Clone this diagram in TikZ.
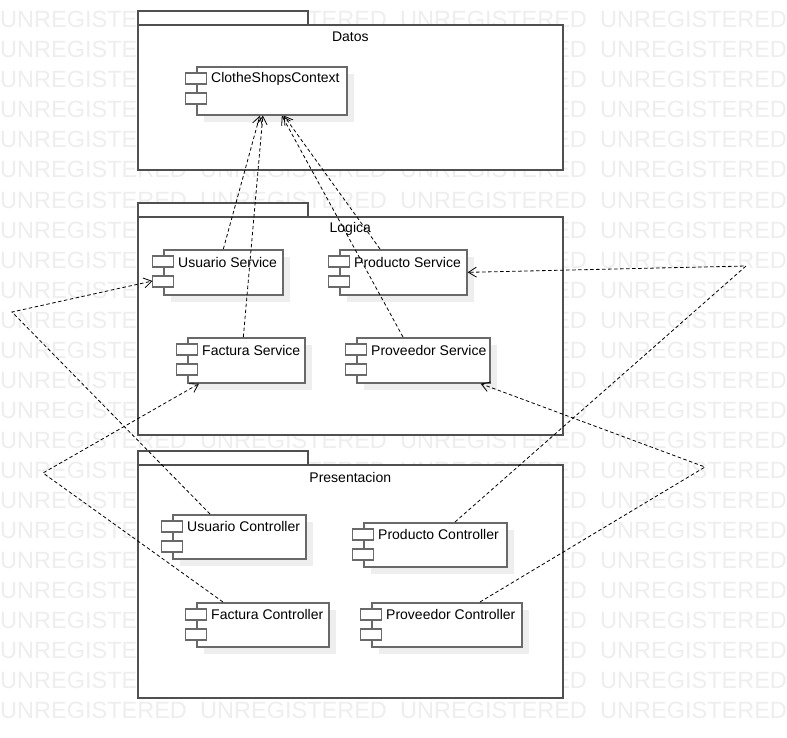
\documentclass[tikz,border=0pt]{standalone}
\usepackage{fontspec}
\setmainfont{Liberation Sans}
\usetikzlibrary{arrows.meta,shadows}
\definecolor{wmgray}{RGB}{238,238,238}
\definecolor{boxgray}{RGB}{105,105,105}
\definecolor{pkggray}{RGB}{80,80,80}
\definecolor{shadegray}{RGB}{238,238,238}

\begin{document}
\begin{tikzpicture}[x=1pt, y=-1pt,
  pkg/.style={draw=pkggray, line width=1.6pt, fill=white, anchor=north west, inner sep=0pt},
  comp/.style={draw=boxgray, line width=1.7pt, fill=white, anchor=north west, inner sep=0pt,
    drop shadow={shadow xshift=7pt, shadow yshift=-7pt, fill=shadegray, opacity=1}},
  port/.style={draw=boxgray, line width=1.7pt, fill=white},
  comptext/.style={anchor=west, inner sep=0pt, font=\fontsize{14}{16}\selectfont},
  pkgtext/.style={inner sep=0pt, font=\fontsize{14}{16}\selectfont},
  dep/.style={dash pattern=on 3.5pt off 2.5pt, line width=0.8pt, -{Straight Barb[length=8pt,width=10pt]}},
  wm/.style={anchor=base west, inner sep=0pt, text=wmgray, font=\fontsize{23.5}{26}\selectfont}
]
\useasboundingbox (0,0) rectangle (787,738);
\fill[white] (0,0) rectangle (787,738);

\begin{scope}
\clip (0,0) rectangle (787,738);
\foreach \r in {0,...,23}
  \foreach \c in {0,...,3}
    \node[wm] (wm-\r-\c) at (200*\c, 28+30*\r) {UNREGISTERED};
\end{scope}

\node[pkg, minimum width=170pt, minimum height=14pt] (datos-tab) at (137,10) {};
\node[pkg, minimum width=425pt, minimum height=145pt] (datos) at (137,24) {};
\node[pkgtext] (datos-t) at ([yshift=-13pt]datos.north) {Datos};

\node[pkg, minimum width=170pt, minimum height=14pt] (logica-tab) at (137,202) {};
\node[pkg, minimum width=425pt, minimum height=218pt] (logica) at (137,216) {};
\node[pkgtext] (logica-t) at ([yshift=-13pt]logica.north) {Logica};

\node[pkg, minimum width=170pt, minimum height=14pt] (pres-tab) at (137,450) {};
\node[pkg, minimum width=425pt, minimum height=233pt] (pres) at (137,464) {};
\node[pkgtext] (pres-t) at ([yshift=-13pt]pres.north) {Presentacion};

\node[comp, minimum width=150pt, minimum height=48pt] (ctx) at (196,66) {};
\node[comp, minimum width=119pt, minimum height=45pt] (us) at (163,249) {};
\node[comp, minimum width=127pt, minimum height=45pt] (ps) at (339,249) {};
\node[comp, minimum width=117pt, minimum height=45pt] (fs) at (187,337) {};
\node[comp, minimum width=133pt, minimum height=45pt] (vs) at (356,337) {};
\node[comp, minimum width=133pt, minimum height=44pt] (uc) at (172,514) {};
\node[comp, minimum width=143pt, minimum height=44pt] (pc) at (363,522) {};
\node[comp, minimum width=132pt, minimum height=44pt] (fc) at (196,602) {};
\node[comp, minimum width=150pt, minimum height=44pt] (vc) at (371,602) {};

\foreach \n in {ctx,us,ps,fs,vs,uc,pc,fc,vc} {
  \draw[port] ([xshift=-10.5pt,yshift=-7pt]\n.north west) rectangle ++(21,11);
  \draw[port] ([xshift=-10.5pt,yshift=-27pt]\n.north west) rectangle ++(21,11);
}

\node[comptext] (ctx-t) at ([xshift=15pt,yshift=-13pt]ctx.north west) {ClotheShopsContext};
\node[comptext] (us-t) at ([xshift=15pt,yshift=-13pt]us.north west) {Usuario Service};
\node[comptext] (ps-t) at ([xshift=15pt,yshift=-13pt]ps.north west) {Producto Service};
\node[comptext] (fs-t) at ([xshift=15pt,yshift=-13pt]fs.north west) {Factura Service};
\node[comptext] (vs-t) at ([xshift=15pt,yshift=-13pt]vs.north west) {Proveedor Service};
\node[comptext] (uc-t) at ([xshift=15pt,yshift=-12pt]uc.north west) {Usuario Controller};
\node[comptext] (pc-t) at ([xshift=15pt,yshift=-12pt]pc.north west) {Producto Controller};
\node[comptext] (fc-t) at ([xshift=15pt,yshift=-12pt]fc.north west) {Factura Controller};
\node[comptext] (vc-t) at ([xshift=15pt,yshift=-12pt]vc.north west) {Proveedor Controller};

\draw[dep] (us.north) -- ([xshift=-12pt]ctx.south);
\draw[dep] ([xshift=-3pt]fs.north) -- ([xshift=-9pt]ctx.south);
\draw[dep] ([xshift=41pt]ps.north west) -- ([xshift=12pt]ctx.south);
\draw[dep] ([xshift=47pt]vs.north west) -- ([xshift=10pt]ctx.south);

\coordinate (uBend) at (12,312);
\coordinate (fBend) at (43,473);
\coordinate (pBend) at (746,266);
\coordinate (vBend) at (705,467);

\draw[dep] ([xshift=38pt]uc.north west) -- (uBend) -- ([xshift=-10.5pt,yshift=-32pt]us.north west);
\draw[dep] ([xshift=27pt]fc.north west) -- (fBend) -- ([xshift=12pt]fs.south west);
\draw[dep] ([xshift=92pt]pc.north west) -- (pBend) -- (ps.east);
\draw[dep] ([xshift=109pt]vc.north west) -- (vBend) -- ([xshift=-10pt]vs.south east);
\end{tikzpicture}
\end{document}
